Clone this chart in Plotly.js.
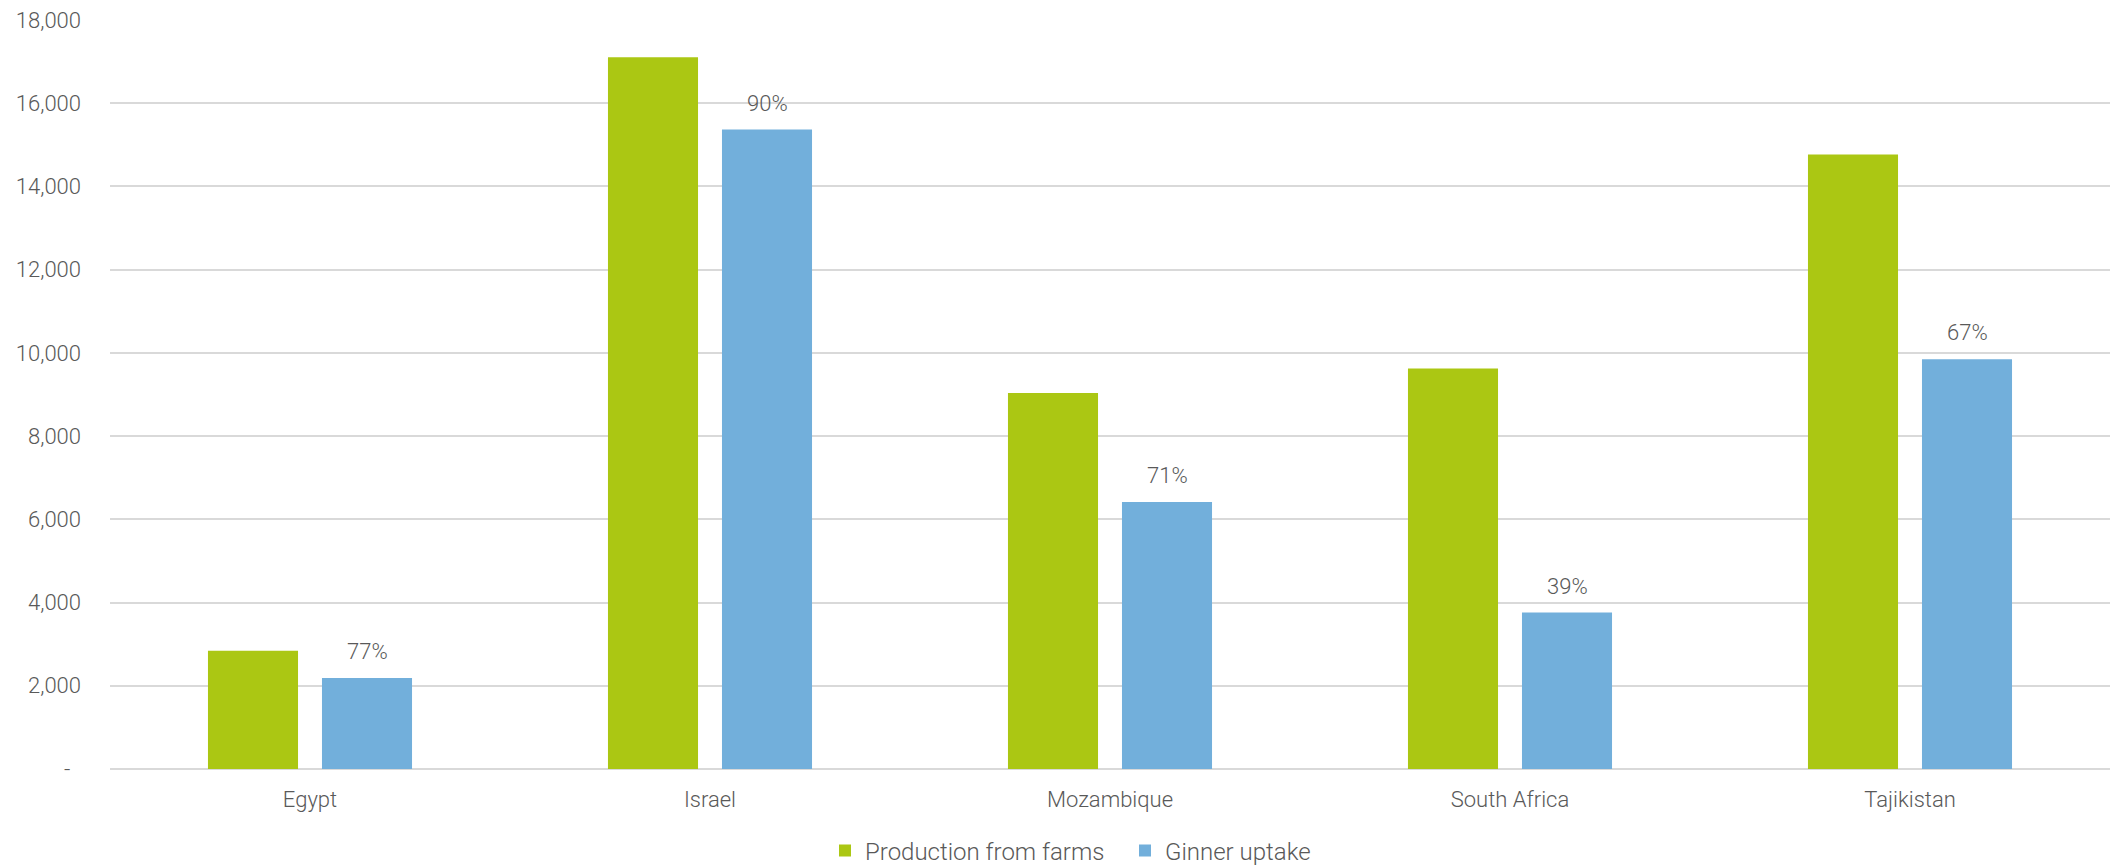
<!DOCTYPE html>
<html>
<head>
<meta charset="utf-8">
<script src="https://cdn.plot.ly/plotly-3.0.1.min.js"></script>
<style>html,body{margin:0;padding:0;background:#fff;}#chart{width:2112px;height:867px;}</style>
</head>
<body>
<div id="chart"></div>
<script>
const categories = ["Egypt", "Israel", "Mozambique", "South Africa", "Tajikistan"];
const production = [2844, 17106, 9038, 9622, 14769];
const ginner = [2187, 15368, 6416, 3760, 9848];
const pctLabels = ["77%", "90%", "71%", "39%", "67%"];
const yTickVals = [0, 2000, 4000, 6000, 8000, 10000, 12000, 14000, 16000, 18000];
const yTickText = ["-\u00a0\u00a0", "2,000", "4,000", "6,000", "8,000", "10,000", "12,000", "14,000", "16,000", "18,000"];

const fontFam = "Roboto, 'Open Sans', sans-serif";
const textCol = "#595959";

const traces = [
  {type: "bar", name: "Production from farms", x: categories, y: production,
   marker: {color: "#ABC713"}, hoverinfo: "x+y"},
  {type: "bar", name: "Ginner uptake", x: categories, y: ginner,
   marker: {color: "#72AFDB"}, hoverinfo: "x+y"}
];

const annotations = categories.map((c, i) => ({
  x: c, y: ginner[i], text: pctLabels[i], showarrow: false,
  xanchor: "center", yanchor: "bottom", xshift: 57, yshift: 12,
  font: {family: fontFam, size: 22, color: textCol, weight: 300}
}));

const layout = {
  width: 2112, height: 867,
  margin: {l: 110, r: 2, t: 20, b: 98, autoexpand: false},
  paper_bgcolor: "#ffffff", plot_bgcolor: "#ffffff",
  barmode: "group", bargap: 0.43, bargroupgap: 0.21,
  font: {family: fontFam, size: 22, color: textCol, weight: 300},
  showlegend: true,
  legend: {orientation: "h", x: 0.3575, xanchor: "left",
           yref: "container", y: 0.0185, yanchor: "middle",
           font: {family: fontFam, size: 24, color: textCol, weight: 300},
           itemwidth: 30, traceorder: "normal", entrywidth: 255},
  xaxis: {type: "category", showgrid: false, zeroline: false, showline: false,
          ticks: "", ticklabelstandoff: 15,
          tickfont: {family: fontFam, size: 22, color: textCol, weight: 300}},
  yaxis: {range: [0, 18000], tickvals: yTickVals, ticktext: yTickText,
          showgrid: true, gridcolor: "#D9D9D9", gridwidth: 2,
          zeroline: true, zerolinecolor: "#D9D9D9", zerolinewidth: 2,
          showline: false, ticks: "", ticklabelstandoff: 28,
          tickfont: {family: fontFam, size: 22, color: textCol, weight: 300}},
  annotations: annotations
};

Plotly.newPlot("chart", traces, layout, {displayModeBar: false, staticPlot: true});
</script>
</body>
</html>
